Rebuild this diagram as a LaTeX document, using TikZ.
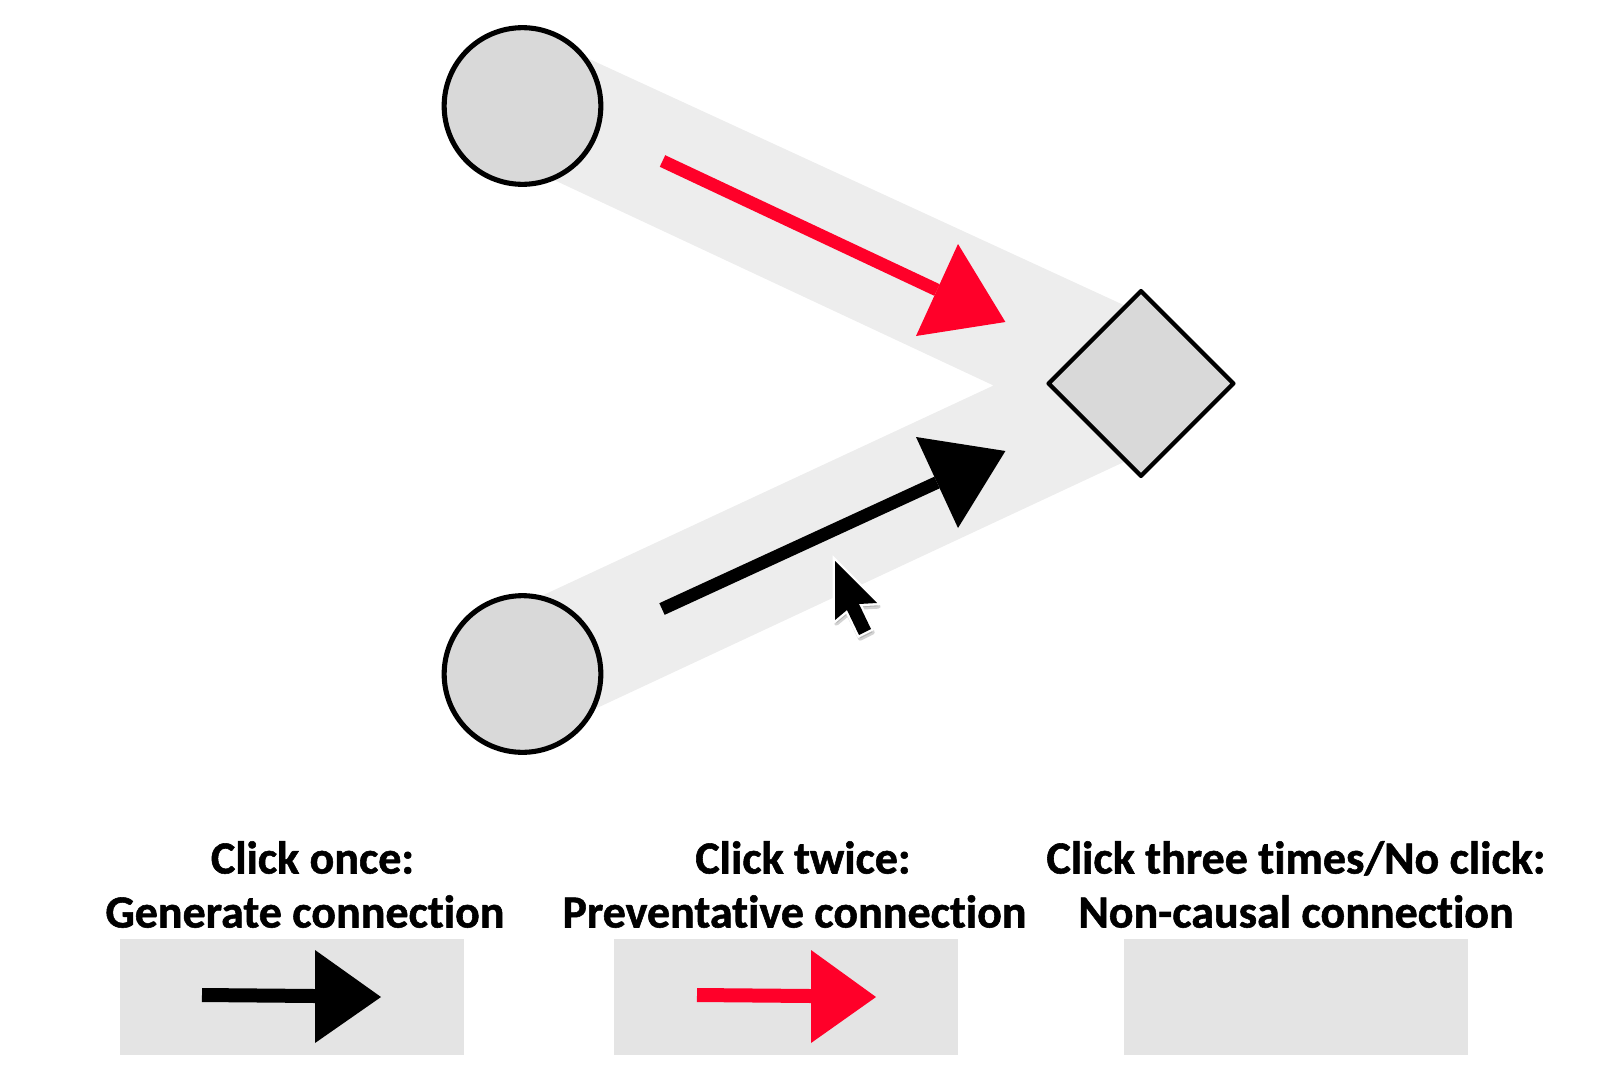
\documentclass[tikz,border=0pt]{standalone}
\usepackage{fontspec}
\setmainfont{Carlito}[Ligatures=NoCommon,BoldFeatures={FakeBold=1.2}]
\usetikzlibrary{shapes.geometric}
\definecolor{bandgrey}{HTML}{EDEDED}
\definecolor{nodegrey}{HTML}{D9D9D9}
\definecolor{panelgrey}{HTML}{E4E4E4}
\definecolor{arrowred}{HTML}{FF0029}
\tikzset{
  vnode/.style={circle,draw=black,line width=3.8pt,fill=nodegrey,minimum size=117.5pt,inner sep=0pt},
  onode/.style={diamond,aspect=1,draw=black,line width=3.2pt,fill=nodegrey,minimum width=140pt,minimum height=140pt,inner sep=0pt,line join=round},
  panel/.style={rectangle,fill=panelgrey,minimum width=258pt,minimum height=87pt,inner sep=0pt},
  head/.style={font=\fontsize{34.5}{34.5}\selectfont\bfseries,anchor=base,inner sep=0pt,text=black},
  shaft/.style={line width=9.6pt}
}
\begin{document}
\begin{tikzpicture}[x=0.75pt,y=-0.75pt]
\useasboundingbox (0,0) rectangle (1620,1078);
% bands
\fill[bandgrey] (522,28) -- (1141,313) -- (1141,454) -- (522,743) -- (522,605) -- (993.5,385.5) -- (522,165) -- cycle;
% nodes
\node[vnode] (c1) at (522.5,106) {};
\node[vnode] (c2) at (522.5,674) {};
\node[onode] (d) at (1141,383.5) {};
% red arrow
\coordinate (rs) at (662.5,161);
\coordinate (rb) at (937,290);
\coordinate (ra) at (958,244);
\coordinate (rc) at (916,336);
\coordinate (rt) at (1005.4,322);
\draw[shaft,arrowred] (rs) -- (rb);
\fill[arrowred] (ra) -- (rt) -- (rc) -- cycle;
% black arrow
\coordinate (bs) at (662,609);
\coordinate (bb) at (937,482.5);
\coordinate (ba) at (916,437);
\coordinate (bc) at (958,528);
\coordinate (bt) at (1005.4,451);
\draw[shaft,black] (bs) -- (bb);
\fill[black] (ba) -- (bt) -- (bc) -- cycle;
% cursor
\fill[black!50,opacity=.35,xshift=1pt,yshift=-2.5pt,line join=round,draw=black!50,line width=3.5pt]
 (835,561) -- (877,603) -- (859,604) -- (871,629) -- (859,635) -- (847,610) -- (835,620) -- cycle;
\filldraw[fill=white,draw=white,line width=3.5pt,line join=miter]
 (835,561) -- (877,603) -- (859,604) -- (871,629) -- (859,635) -- (847,610) -- (835,620) -- cycle;
\fill[black] (835,561) -- (877,603) -- (859,604) -- (871,629) -- (859,635) -- (847,610) -- (835,620) -- cycle;
% labels
\node[head] (t1a) at (312.5,873.5) {Click once:};
\node[head] (t1b) at (305,927.5) {Generate connection};
\node[head] (t2a) at (803,873.5) {Click twice:};
\node[head] (t2b) at (794.5,927.5) {Preventative connection};
\node[head] (t3a) at (1296,873.5) {Click three times/No click:};
\node[head] (t3b) at (1296,927.5) {Non-causal connection};
% panels
\node[panel] (p1) at (292,996.5) {};
\node[panel] (p2) at (786,996.5) {};
\node[panel] (p3) at (1296,996.5) {};
% legend arrows
\coordinate (l1s) at (202,995);
\coordinate (l1b) at (315,996);
\draw[line width=10.5pt,black] (l1s) -- (l1b);
\fill[black] (315,950) -- (381,997) -- (315,1043) -- cycle;
\coordinate (l2s) at (697,995);
\coordinate (l2b) at (811,996);
\draw[line width=10.5pt,arrowred] (l2s) -- (l2b);
\fill[arrowred] (811,950) -- (876,997) -- (811,1043) -- cycle;
\end{tikzpicture}
\end{document}
